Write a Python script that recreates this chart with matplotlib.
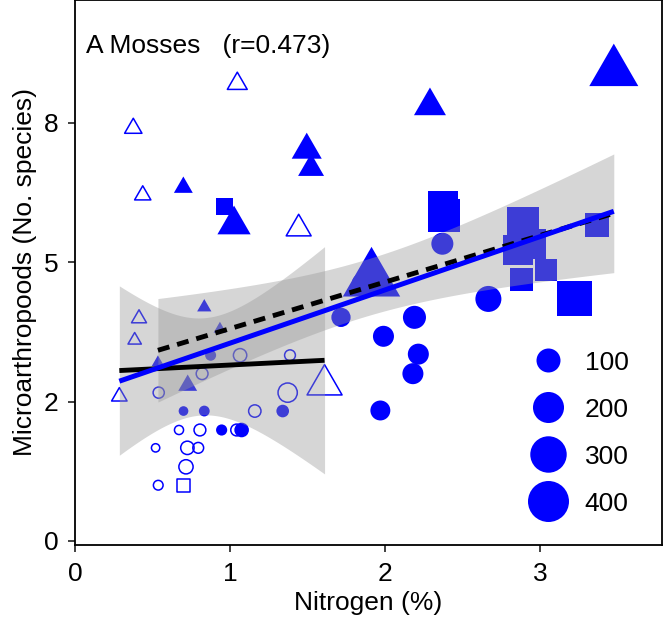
import numpy as np
import matplotlib.pyplot as plt
from matplotlib.lines import Line2D
from matplotlib.path import Path

plt.rcParams['font.family'] = ['Liberation Sans', 'DejaVu Sans']
plt.rcParams['lines.scale_dashes'] = False

# open symbols (one group)
open_x = [0.286, 0.385, 0.413, 0.376, 0.437, 1.047, 1.443, 1.61,
          0.54, 0.82, 1.065, 1.387, 1.372, 1.16, 0.671, 0.806, 1.043,
          0.52, 0.725, 0.795, 0.716, 0.537,
          0.70]
open_y = [2.59, 3.60, 3.99, 7.40, 6.20, 8.20, 5.60, 2.80,
          2.66, 3.0, 3.33, 3.33, 2.66, 2.33, 1.99, 1.99, 1.99,
          1.67, 1.67, 1.67, 1.33, 1.0,
          0.99]
open_n = [7, 3, 6, 12, 9, 21, 46, 125,
          6, 8, 14, 5, 52, 10, 1.5, 8, 8,
          0.6, 14, 5, 18, 2.5,
          22]
open_shape = ['triangle'] * 8 + ['circle'] * 14 + ['square']

# filled symbols (other group)
filled_x = [0.70, 0.834, 1.34, 0.946, 1.075, 0.875, 1.716, 1.85, 2.37, 2.667,
            2.19, 1.99, 2.215, 2.18, 1.97,
            0.834, 0.935, 0.535, 0.727, 0.699, 1.026, 1.495, 1.523, 2.29, 3.476, 1.913,
            0.966, 2.376, 2.38, 2.89, 2.94, 2.86, 2.88, 3.04, 3.22, 3.37]
filled_y = [2.33, 2.33, 2.33, 1.99, 1.99, 3.33, 4.01, 4.62, 5.33, 4.34,
            4.01, 3.67, 3.35, 3.0, 2.34,
            4.19, 3.80, 3.20, 2.79, 6.34, 5.67, 7.01, 6.68, 7.80, 8.41, 4.68,
            6.0, 6.01, 5.84, 5.71, 5.33, 5.22, 4.68, 4.86, 4.34, 5.67]
filled_n = [2.5, 5, 11, 6, 20, 5.5, 52, 58, 78, 125,
            89, 68, 68, 68, 58,
            4.5, 2, 1.7, 17, 17, 108, 81, 52, 97, 299, 438,
            55, 250, 310, 290, 250, 250, 125, 110, 365, 139]
filled_shape = ['circle'] * 15 + ['triangle'] * 11 + ['square'] * 10

legend_vals = [100, 200, 300, 400]

BLUE = '#0000ff'
PX = 0.72  # points per pixel at dpi 100


def diam_px(v):
    return 7 + 1.7 * np.sqrt(np.asarray(v, dtype=float))


TRI = Path([(0, 1.5551), (1.3468, -0.7776), (-1.3468, -0.7776), (0, 1.5551)], closed=True)
markers = {'circle': ('o', 1.0), 'triangle': (TRI, 1.5551), 'square': ('s', 0.8862)}


def t975(df):
    z = 1.959964
    g1 = (z**3 + z) / 4
    g2 = (5 * z**5 + 16 * z**3 + 3 * z) / 96
    g3 = (3 * z**7 + 19 * z**5 + 17 * z**3 - 15 * z) / 384
    return z + g1 / df + g2 / df**2 + g3 / df**3


def fit(x, y):
    x = np.asarray(x, float)
    y = np.asarray(y, float)
    b, a = np.polyfit(x, y, 1)
    xs = np.linspace(x.min(), x.max(), 100)
    yhat = a + b * xs
    n = len(x)
    s = np.sqrt(np.sum((y - (a + b * x))**2) / (n - 2))
    sxx = np.sum((x - x.mean())**2)
    se = s * np.sqrt(1 / n + (xs - x.mean())**2 / sxx)
    t = t975(n - 2)
    return xs, yhat, yhat - t * se, yhat + t * se


fig = plt.figure(figsize=(6.64, 6.22), dpi=100)
ax = fig.add_axes([75 / 664, 77 / 622, 587 / 664, 545 / 622])


def draw_points(xv, yv, nv, shapes, hollow):
    xv, yv, nv, shapes = map(np.asarray, (xv, yv, nv, shapes))
    for shp, (mk, k) in markers.items():
        m = shapes == shp
        if not m.any():
            continue
        s = (k * diam_px(nv[m]) * PX) ** 2
        if hollow:
            ax.scatter(xv[m], yv[m], s=s, marker=mk, facecolors='none',
                       edgecolors=BLUE, linewidths=1.1, zorder=2)
        else:
            ax.scatter(xv[m], yv[m], s=s, marker=mk, color=BLUE,
                       linewidths=0, zorder=2)


draw_points(open_x, open_y, open_n, open_shape, True)
draw_points(filled_x, filled_y, filled_n, filled_shape, False)

xs, yh, lo, hi = fit(open_x, open_y)
ax.fill_between(xs, lo, hi, color='#999999', alpha=0.4, lw=0, zorder=3)
ax.plot(xs, yh, color='black', lw=3.5, solid_capstyle='butt', zorder=4)

xs, yh, lo, hi = fit(filled_x, filled_y)
ax.fill_between(xs, lo, hi, color='#999999', alpha=0.4, lw=0, zorder=3)
ax.plot(xs, yh, color='black', lw=3.5, dashes=(8.6, 5.8), dash_capstyle='butt', zorder=5)

xs, yh, lo, hi = fit(open_x + filled_x, open_y + filled_y)
ax.plot(xs, yh, color=BLUE, lw=3.6, solid_capstyle='butt', zorder=6)

ax.set_xlim(0, 3.787)
ax.set_ylim(-0.072, 9.70)
ax.set_xticks([0, 1, 2, 3])
ax.set_yticks([0, 2.5, 5, 7.5])
ax.set_yticklabels(['0', '2', '5', '8'])
ax.tick_params(length=5, width=1.3, color='#333333', labelsize=19, labelcolor='black', pad=7)
for sp in ax.spines.values():
    sp.set_linewidth(1.3)
    sp.set_color('black')
ax.set_xlabel('Nitrogen (%)', fontsize=19, labelpad=4)
ax.set_ylabel('Microarthropoods (No. species)', fontsize=19, labelpad=5)

ax.text(0.0187, 0.9033, 'A Mosses   (r=0.473)', transform=ax.transAxes,
        fontsize=19, ha='left', va='baseline')

handles = [Line2D([], [], ls='', marker='o', color=BLUE, markeredgewidth=0,
                  markersize=diam_px(v) * PX) for v in legend_vals]
ax.legend(handles, [str(v) for v in legend_vals], loc='lower right',
          bbox_to_anchor=(0.943, 0.054), frameon=False, fontsize=19,
          handlelength=1.6, handletextpad=0.6, labelspacing=0.87,
          borderpad=0, borderaxespad=0)

fig.savefig('out.png', dpi=100)
